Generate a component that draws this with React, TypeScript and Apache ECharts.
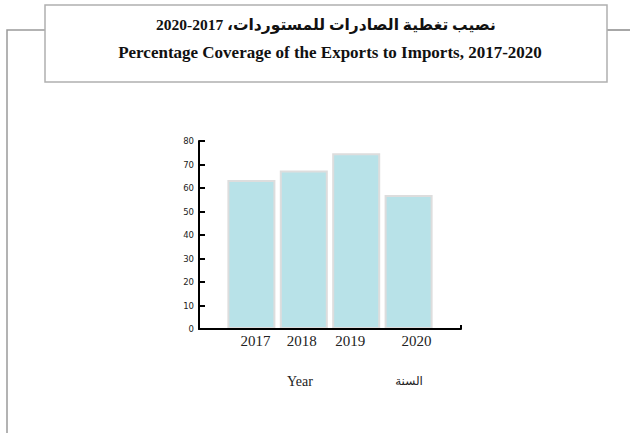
import React, { useEffect, useRef } from "react";
import * as echarts from "echarts";

const years = ["2017", "2018", "2019", "2020"];
const coverage = [63.4, 67.5, 74.8, 57.0];
const yTicks = { min: 0, max: 80, interval: 10 };
const titleAr = "\u202Bنصيب تغطية الصادرات للمستوردات، 2017-2020\u202C";
const titleEn = "Percentage Coverage of the Exports to Imports, 2017-2020";
const axisNameEn = "Year";
const axisNameAr = "السنة";

// label nudges (style only)
const labelShift: Record<string, number> = { "2017": 4, "2018": -2, "2019": -6, "2020": 8 };

export default function App() {
  const ref = useRef<HTMLDivElement>(null);
  useEffect(() => {
    const chart = echarts.init(ref.current!, null, { renderer: "svg" });
    const cats = ["", ...years, ""];
    const data = ["-", ...coverage, "-"];
    const rich: Record<string, any> = {};
    years.forEach((y) => {
      const s = labelShift[y] || 0;
      rich["y" + y] = {
        fontFamily: "Liberation Serif",
        fontSize: 15,
        color: "#222",
        padding: s >= 0 ? [0, 0, 0, 2 * s] : [0, -2 * s, 0, 0],
      };
    });
    chart.setOption({
      animation: false,
      backgroundColor: "#fff",
      grid: { left: 199, top: 141, width: 262, height: 188, containLabel: false, outerBoundsMode: "none" },
      xAxis: {
        type: "category",
        data: cats,
        boundaryGap: false,
        z: 3,
        axisLine: { lineStyle: { color: "#000", width: 2 } },
        axisTick: {
          show: true,
          inside: true,
          length: 4,
          lineStyle: { color: "#000", width: 2 },
          interval: (i: number) => i === cats.length - 1,
        },
        axisLabel: {
          interval: 0,
          margin: 4,
          formatter: (v: string) => (v ? `{y${v}|${v}}` : ""),
          rich,
        },
        splitLine: { show: false },
      },
      yAxis: {
        type: "value",
        min: yTicks.min,
        max: yTicks.max,
        interval: yTicks.interval,
        z: 3,
        axisLine: { show: true, lineStyle: { color: "#000", width: 2 } },
        axisTick: { show: true, inside: true, length: 6, lineStyle: { color: "#000", width: 2 } },
        axisLabel: { fontFamily: "DejaVu Sans", fontSize: 8.5, color: "#222", margin: 5 },
        splitLine: { show: false },
      },
      series: [
        {
          type: "bar",
          data,
          barWidth: 48,
          itemStyle: { color: "#b8e2e8", borderColor: "#dddddd", borderWidth: 2 },
        },
      ],
      graphic: [
        {
          type: "polyline",
          shape: { points: [[7, 433], [7, 30], [45, 30]] },
          style: { stroke: "#9a9a9a", lineWidth: 1.5, fill: null },
        },
        {
          type: "line",
          shape: { x1: 607, y1: 30, x2: 630, y2: 30 },
          style: { stroke: "#8a8a8a", lineWidth: 1.5 },
        },
        {
          type: "rect",
          shape: { x: 45, y: 5, width: 562, height: 77 },
          style: { stroke: "#b0b0b0", lineWidth: 1.5, fill: "#fff" },
        },
        {
          type: "text",
          x: 326,
          y: 24,
          style: {
            text: titleAr,
            fontFamily: "Liberation Serif, DejaVu Sans",
            fontWeight: "bold",
            fontSize: 15.5,
            fill: "#111",
            align: "center",
            verticalAlign: "middle",
          },
        },
        {
          type: "text",
          x: 330,
          y: 52,
          style: {
            text: titleEn,
            fontFamily: "Liberation Serif",
            fontWeight: "bold",
            fontSize: 17,
            fill: "#111",
            align: "center",
            verticalAlign: "middle",
          },
        },
        {
          type: "text",
          x: 300,
          y: 381,
          style: {
            text: axisNameEn,
            fontFamily: "Liberation Serif",
            fontSize: 14,
            fill: "#222",
            align: "center",
            verticalAlign: "middle",
          },
        },
        {
          type: "text",
          x: 409,
          y: 381,
          style: {
            text: axisNameAr,
            fontFamily: "Liberation Serif, DejaVu Sans",
            fontSize: 12,
            fill: "#222",
            align: "center",
            verticalAlign: "middle",
          },
        },
      ],
    });
    return () => chart.dispose();
  }, []);
  return (
    <div
      ref={ref}
      style={{ position: "fixed", left: 0, top: 0, width: 630, height: 433, background: "#fff" }}
    />
  );
}
